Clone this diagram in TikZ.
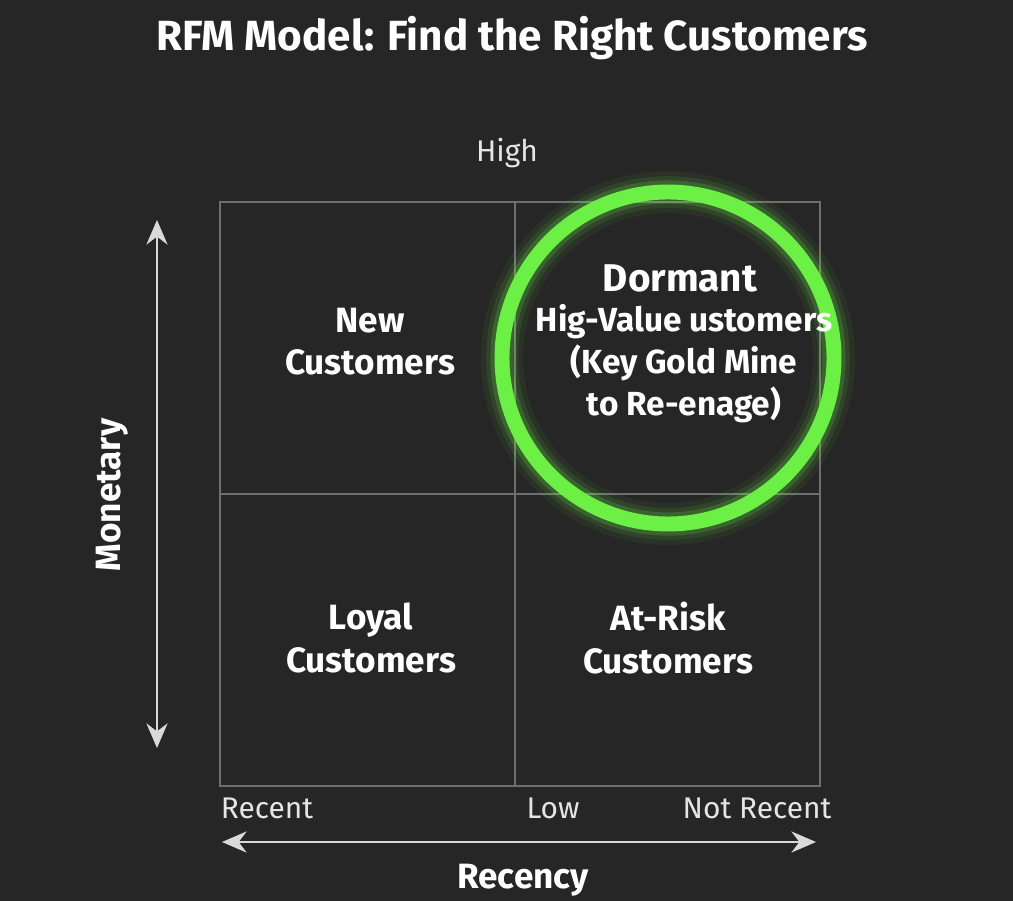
\documentclass[tikz,border=0pt]{standalone}
\usepackage{fontspec}
\setmainfont{Fira Sans}
\usetikzlibrary{arrows.meta}
\definecolor{bgdark}{HTML}{262626}
\definecolor{gridgray}{HTML}{6E6E6E}
\definecolor{glowgreen}{HTML}{6CF046}
\tikzset{
    quad/.style = {text=white, align=center, font=\fontsize{20}{24}\selectfont\bfseries},
    axislab/.style = {text=white!90!black, font=\fontsize{17}{19}\selectfont},
    axisname/.style = {text=white, font=\fontsize{20}{22}\selectfont\bfseries},
    axisarrow/.style = {draw=white!85!black, line width=1.6pt, {Stealth[length=14pt,width=12pt]}-{Stealth[length=14pt,width=12pt]}}
}
\begin{document}
\begin{tikzpicture}[x=0.02cm, y=-0.02cm]
    \fill[bgdark] (0,0) rectangle (1013,901);
    \useasboundingbox (0,0) rectangle (1013,901);
    % title
    \node[text=white, font=\fontsize{24}{26}\selectfont\bfseries] (title) at (512,38) {RFM Model: Find the Right Customers};
    % grid
    \draw[gridgray, line width=0.8pt] (220,202) rectangle (820,786);
    \draw[gridgray, line width=0.8pt] (515,202) -- (515,786);
    \draw[gridgray, line width=0.8pt] (220,494) -- (820,494);
    % glowing ring
    \foreach \w/\o in {40/0.06, 30/0.1, 22/0.18}
        \draw[glowgreen, line width=\w pt*0.6, opacity=\o] (668,358) circle (166);
    \draw[glowgreen, line width=8.5pt] (668,358) circle (166);
    % quadrants
    \node[quad] (new) at (370,342) {New\\Customers};
    \node[quad] (loyal) at (371,638) {Loyal\\Customers};
    \node[quad] (risk) at (668,638) {At-Risk\\Customers};
    \node[quad, font=\fontsize{22}{24}\selectfont\bfseries] (dormant) at (680,278) {Dormant};
    \node[quad, font=\fontsize{19}{24}\selectfont\bfseries] (gold) at (684,364) {Hig-Value ustomers\\(Key Gold Mine\\to Re-enage)};
    % axes
    \node[axislab] (high) at (507,153) {High};
    \coordinate (mtop) at (157,220);
    \coordinate (mbot) at (157,748);
    \draw[axisarrow] (mtop) -- (mbot);
    \node[axisname, rotate=90] (monetary) at (112,495) {Monetary};
    \node[axislab] (recent) at (267,808) {Recent};
    \node[axislab] (low) at (553,808) {Low};
    \node[axislab] (notrecent) at (757,808) {Not Recent};
    \coordinate (rleft) at (222,842);
    \coordinate (rright) at (816,842);
    \draw[axisarrow] (rleft) -- (rright);
    \node[axisname] (recency) at (523,880) {Recency};
\end{tikzpicture}
\end{document}
